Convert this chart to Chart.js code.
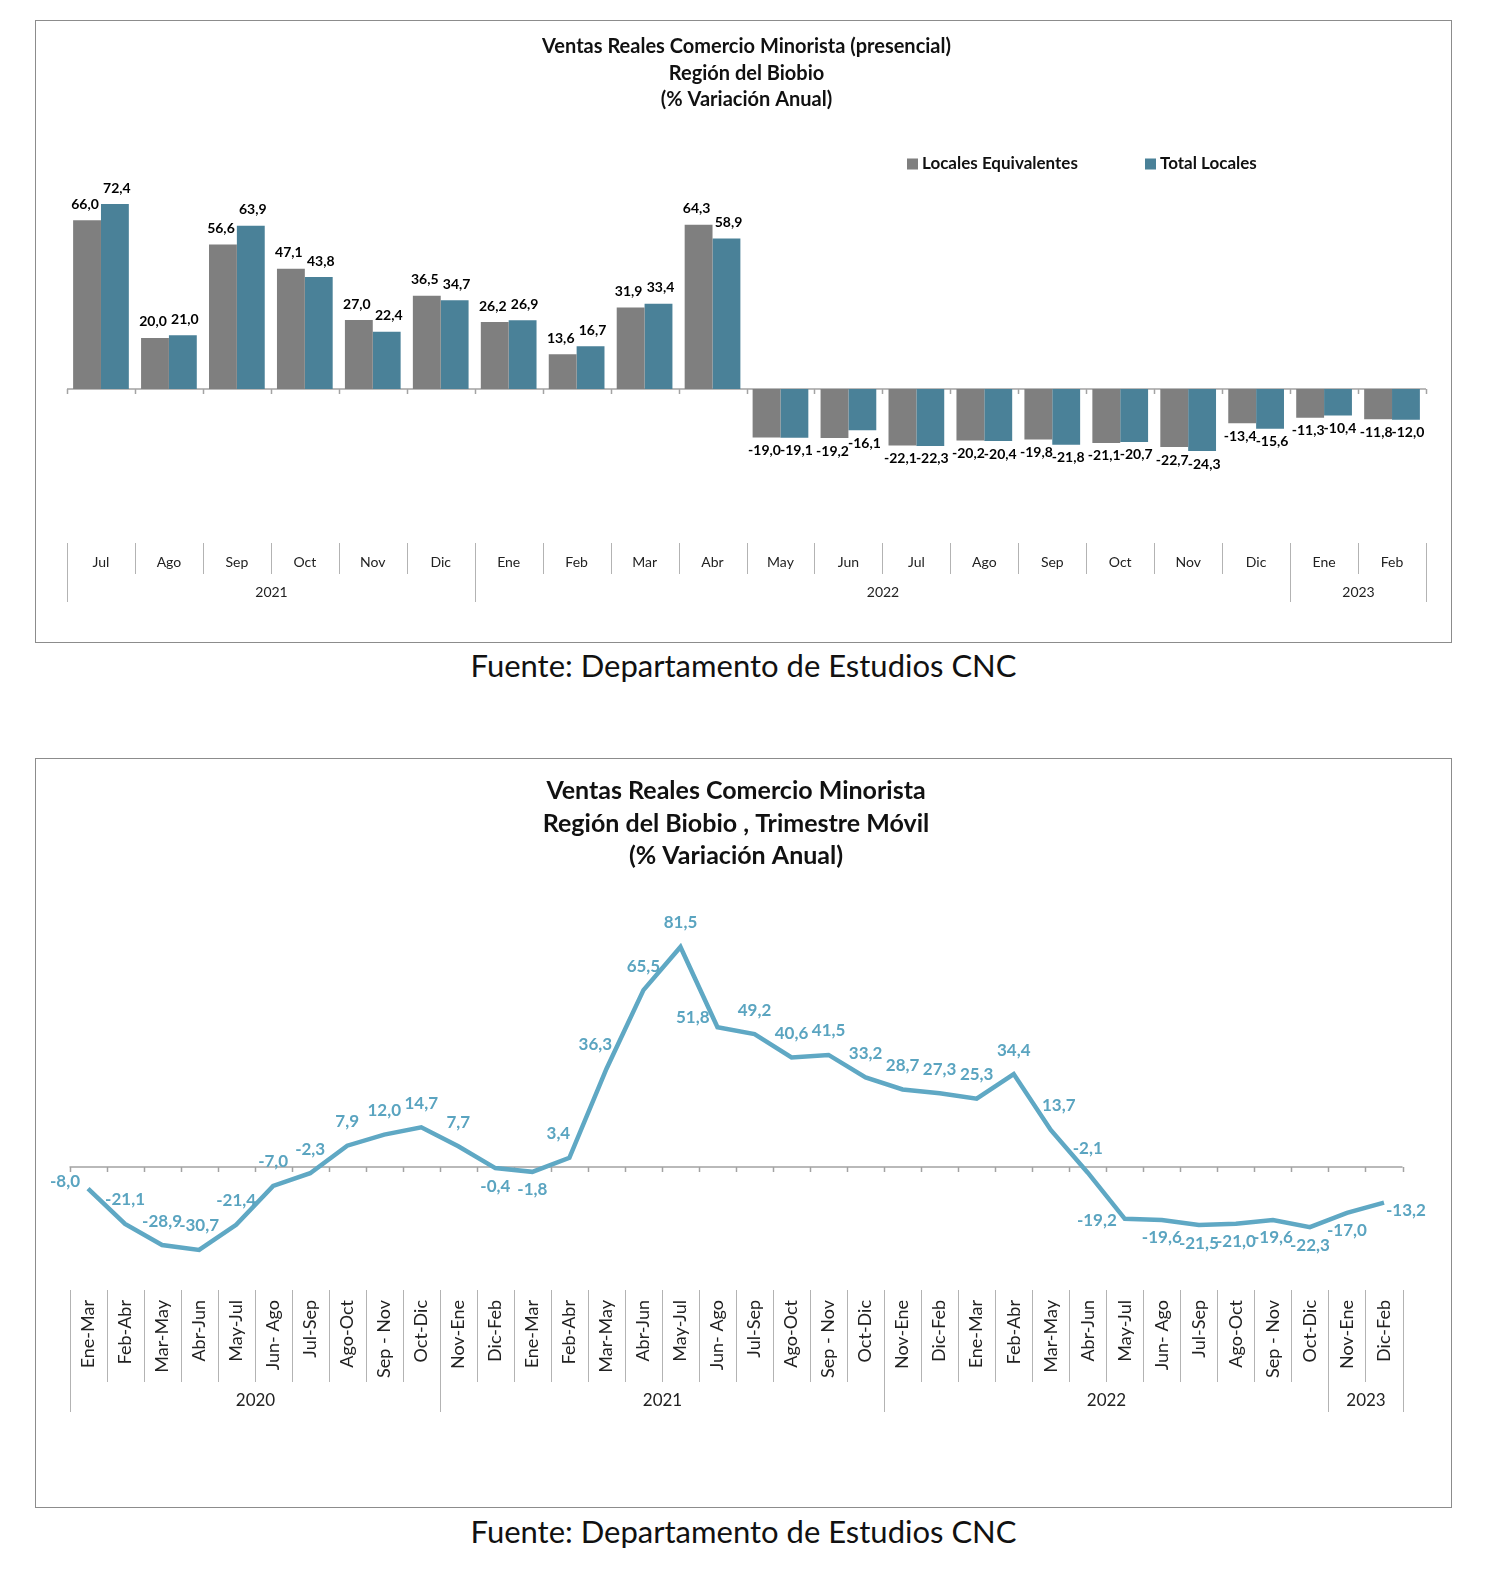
<!DOCTYPE html>
<html>
<head>
<meta charset="utf-8">
<script src="https://cdn.jsdelivr.net/npm/chart.js@4.4.0/dist/chart.umd.min.js"></script>
<style>
  body { margin: 0; background: #fff; font-family: Lato, sans-serif; }
  .box { position: absolute; left: 35px; width: 1415px; border: 1px solid #8c8c8c; background: #fff; }
  .box canvas { display: block; }
  #box1 { top: 20px; height: 621px; }
  #box2 { top: 758px; height: 748px; }
  .fuente { position: absolute; left: 35px; width: 1417px; text-align: center; font-size: 31px; color: #111; line-height: 38px; }
</style>
</head>
<body>
<div class="box" id="box1"><canvas id="barras" width="1415" height="621"></canvas></div>
<div class="fuente" style="top:646px">Fuente: Departamento de Estudios CNC</div>
<div class="box" id="box2"><canvas id="linea" width="1415" height="748"></canvas></div>
<div class="fuente" style="top:1512px">Fuente: Departamento de Estudios CNC</div>

<script>
// --- datos grafico 1 (barras) ---
var meses = ['Jul', 'Ago', 'Sep', 'Oct', 'Nov', 'Dic', 'Ene', 'Feb', 'Mar', 'Abr',
             'May', 'Jun', 'Jul', 'Ago', 'Sep', 'Oct', 'Nov', 'Dic', 'Ene', 'Feb'];
var anosBarras = ['2021', '2022', '2023'];
var mesesPorAno = [6, 12, 2];
var localesEquivalentes = [66.0, 20.0, 56.6, 47.1, 27.0, 36.5, 26.2, 13.6, 31.9, 64.3,
                           -19.0, -19.2, -22.1, -20.2, -19.8, -21.1, -22.7, -13.4, -11.3, -11.8];
var totalLocales = [72.4, 21.0, 63.9, 43.8, 22.4, 34.7, 26.9, 16.7, 33.4, 58.9,
                    -19.1, -16.1, -22.3, -20.4, -21.8, -20.7, -24.3, -15.6, -10.4, -12.0];

// --- datos grafico 2 (linea, trimestre movil) ---
var periodos = ['Ene-Mar', 'Feb-Abr', 'Mar-May', 'Abr-Jun', 'May-Jul', 'Jun- Ago', 'Jul-Sep', 'Ago-Oct', 'Sep - Nov', 'Oct-Dic',
                'Nov-Ene', 'Dic-Feb', 'Ene-Mar', 'Feb-Abr', 'Mar-May', 'Abr-Jun', 'May-Jul', 'Jun- Ago', 'Jul-Sep', 'Ago-Oct', 'Sep - Nov', 'Oct-Dic',
                'Nov-Ene', 'Dic-Feb', 'Ene-Mar', 'Feb-Abr', 'Mar-May', 'Abr-Jun', 'May-Jul', 'Jun- Ago', 'Jul-Sep', 'Ago-Oct', 'Sep - Nov', 'Oct-Dic',
                'Nov-Ene', 'Dic-Feb'];
var anosLinea = ['2020', '2021', '2022', '2023'];
var periodosPorAno = [10, 12, 12, 2];
var variacion = [-8.0, -21.1, -28.9, -30.7, -21.4, -7.0, -2.3, 7.9, 12.0, 14.7,
                 7.7, -0.4, -1.8, 3.4, 36.3, 65.5, 81.5, 51.8, 49.2, 40.6, 41.5, 33.2,
                 28.7, 27.3, 25.3, 34.4, 13.7, -2.1, -19.2, -19.6, -21.5, -21.0, -19.6, -22.3,
                 -17.0, -13.2];

function fmt(v) { return v.toFixed(1).replace('.', ','); }

// linea del cero con marcas en los limites de categoria
var lineaCero = {
  id: 'lineaCero',
  beforeDatasetsDraw: function (chart) {
    var ctx = chart.ctx, area = chart.chartArea, xs = chart.scales.x;
    var y0 = chart.scales.y.getPixelForValue(0);
    var step = xs.getPixelForValue(1) - xs.getPixelForValue(0);
    var n = xs.getLabels().length;
    ctx.save();
    ctx.strokeStyle = '#a3a3a3';
    ctx.lineWidth = 1.5;
    ctx.beginPath();
    ctx.moveTo(area.left, y0);
    ctx.lineTo(area.right, y0);
    for (var i = 0; i <= n; i++) {
      var x = Math.round(xs.getPixelForValue(i) - step / 2) + 0.5;
      ctx.moveTo(x, y0);
      ctx.lineTo(x, y0 + 5);
    }
    ctx.stroke();
    ctx.restore();
  }
};

// eje de categorias agrupado por año
var ejeAgrupado = {
  id: 'ejeAgrupado',
  afterDraw: function (chart, args, o) {
    var ctx = chart.ctx, xs = chart.scales.x;
    var labels = xs.getLabels();
    var n = labels.length;
    var step = xs.getPixelForValue(1) - xs.getPixelForValue(0);
    var edge = function (i) { return Math.round(xs.getPixelForValue(i) - step / 2) + 0.5; };
    var bordes = {0: true};
    var acc = 0;
    o.spans.forEach(function (s) { acc += s; bordes[acc] = true; });

    ctx.save();
    ctx.strokeStyle = '#b3b3b3';
    ctx.lineWidth = 1;
    ctx.beginPath();
    for (var i = 0; i <= n; i++) {
      ctx.moveTo(edge(i), o.top);
      ctx.lineTo(edge(i), bordes[i] ? o.yearBottom : o.monthBottom);
    }
    ctx.stroke();

    ctx.fillStyle = '#222';
    ctx.font = o.font;
    for (var j = 0; j < n; j++) {
      var x = xs.getPixelForValue(j);
      if (o.rotate) {
        ctx.save();
        ctx.translate(x, o.monthY);
        ctx.rotate(-Math.PI / 2);
        ctx.textAlign = 'right';
        ctx.textBaseline = 'middle';
        ctx.fillText(labels[j], 0, 0);
        ctx.restore();
      } else {
        ctx.textAlign = 'center';
        ctx.textBaseline = 'middle';
        ctx.fillText(labels[j], x, o.monthY);
      }
    }
    ctx.font = o.yearFont;
    ctx.textAlign = 'center';
    ctx.textBaseline = 'middle';
    var start = 0;
    o.spans.forEach(function (s, k) {
      var cx = (edge(start) + edge(start + s)) / 2;
      ctx.fillText(o.years[k], cx, o.yearY);
      start += s;
    });
    ctx.restore();
  }
};

// etiquetas de valores sobre las barras + leyenda
var etiquetasBarras = {
  id: 'etiquetasBarras',
  afterDatasetsDraw: function (chart, args, o) {
    var ctx = chart.ctx;
    ctx.save();
    ctx.font = 'bold 14px Lato';
    ctx.fillStyle = '#000';
    ctx.textAlign = 'center';
    ctx.textBaseline = 'middle';
    chart.data.datasets.forEach(function (ds, d) {
      var dx = d === 0 ? -2 : 2;
      chart.getDatasetMeta(d).data.forEach(function (el, i) {
        var v = ds.data[i];
        ctx.fillText(fmt(v), el.x + dx, v >= 0 ? el.y - 16 : el.y + 13);
      });
    });
    // leyenda
    ctx.font = 'bold 17px Lato';
    ctx.textAlign = 'left';
    chart.data.datasets.forEach(function (ds, d) {
      var lx = o.legendX[d];
      ctx.fillStyle = ds.backgroundColor;
      ctx.fillRect(lx, o.legendY - 5.5, 11, 11);
      ctx.fillStyle = '#111';
      ctx.fillText(ds.label, lx + 15, o.legendY);
    });
    ctx.restore();
  }
};

// etiquetas de la linea
var etiquetasLinea = {
  id: 'etiquetasLinea',
  afterDatasetsDraw: function (chart) {
    var ctx = chart.ctx;
    var ds = chart.data.datasets[0];
    var pts = chart.getDatasetMeta(0).data;
    var n = pts.length;
    ctx.save();
    ctx.font = 'bold 17px Lato';
    ctx.fillStyle = '#5aa4c0';
    ctx.textBaseline = 'middle';
    pts.forEach(function (el, i) {
      var v = ds.data[i];
      var prev = i > 0 ? ds.data[i - 1] : v;
      var next = i < n - 1 ? ds.data[i + 1] : v;
      var t = fmt(v);
      if (i === 0) {
        ctx.textAlign = 'right';
        ctx.fillText(t, el.x - 8, el.y - 7);
      } else if (i === n - 1) {
        ctx.textAlign = 'left';
        ctx.fillText(t, el.x + 2, el.y + 8);
      } else if (prev - v > 25) {
        // caida fuerte: etiqueta a la izquierda
        ctx.textAlign = 'right';
        ctx.fillText(t, el.x - 8, el.y - 10);
      } else if (v < 0 && prev - v > 16) {
        ctx.textAlign = 'right';
        ctx.fillText(t, el.x - 8, el.y + 2);
      } else if (v < 0 && i >= 10 && prev < 10) {
        ctx.textAlign = 'center';
        ctx.fillText(t, el.x, el.y + 18);
      } else {
        var dx = 0;
        if (next - v > 25) dx = -11;
        else if (prev - v > 18) dx = 8;
        ctx.textAlign = 'center';
        ctx.fillText(t, el.x + dx, el.y - 24);
      }
    });
    ctx.restore();
  }
};

new Chart(document.getElementById('barras').getContext('2d'), {
  type: 'bar',
  data: {
    labels: meses,
    datasets: [
      { label: 'Locales Equivalentes', data: localesEquivalentes, backgroundColor: '#7f7f7f' },
      { label: 'Total Locales', data: totalLocales, backgroundColor: '#4a8198' }
    ]
  },
  options: {
    responsive: false,
    animation: false,
    layout: { padding: { left: 31, right: 25, top: 0, bottom: 99.7 } },
    datasets: { bar: { categoryPercentage: 0.82, barPercentage: 1.0, borderWidth: 0 } },
    scales: {
      x: { display: false, offset: true },
      y: { display: false, min: -60, max: 80 }
    },
    plugins: {
      legend: { display: false },
      tooltip: { enabled: false },
      title: {
        display: true,
        text: ['Ventas Reales Comercio Minorista (presencial)', 'Región del Biobio', '(% Variación Anual)'],
        color: '#111',
        font: { family: 'Lato', size: 20, weight: 'bold', lineHeight: 1.325 },
        padding: { top: 12.5, bottom: 71.6 }
      },
      ejeAgrupado: { spans: mesesPorAno, years: anosBarras, font: '14px Lato', yearFont: '14px Lato',
                     top: 522, monthBottom: 553, yearBottom: 581, monthY: 541, yearY: 571 },
      etiquetasBarras: { legendX: [871, 1109], legendY: 143 }
    }
  },
  plugins: [lineaCero, ejeAgrupado, etiquetasBarras]
});

new Chart(document.getElementById('linea').getContext('2d'), {
  type: 'line',
  data: {
    labels: periodos,
    datasets: [{
      label: 'Trimestre Móvil',
      data: variacion,
      borderColor: '#5fa8c4',
      borderWidth: 4.5,
      pointRadius: 0,
      fill: false,
      tension: 0
    }]
  },
  options: {
    responsive: false,
    animation: false,
    layout: { padding: { left: 33.5, right: 48.5, top: 0, bottom: 218.5 } },
    scales: {
      x: { display: false, offset: true },
      y: { display: false, min: -45, max: 100 }
    },
    plugins: {
      legend: { display: false },
      tooltip: { enabled: false },
      title: {
        display: true,
        text: ['Ventas Reales Comercio Minorista', 'Región del Biobio , Trimestre Móvil', '(% Variación Anual)'],
        color: '#111',
        font: { family: 'Lato', size: 25, weight: 'bold', lineHeight: 1.3 },
        padding: { top: 15.75, bottom: 24.75 }
      },
      ejeAgrupado: { spans: periodosPorAno, years: anosLinea, font: '18px Lato', yearFont: '17px Lato', rotate: true,
                     top: 531, monthBottom: 623, yearBottom: 653, monthY: 541, yearY: 642 }
    }
  },
  plugins: [lineaCero, ejeAgrupado, etiquetasLinea]
});
</script>
</body>
</html>
